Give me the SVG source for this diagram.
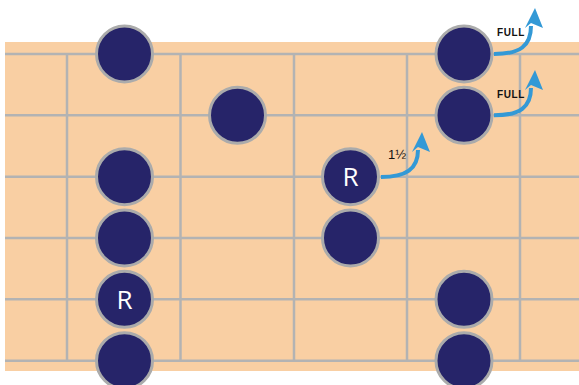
<svg xmlns="http://www.w3.org/2000/svg" width="579" height="385" viewBox="0 0 579 385">
<defs>
<style>
.bg{fill:#f9cfa3}
.ln{stroke:#b3b3b3;stroke-width:2.5;fill:none}
.dot{fill:#262469;stroke:#ababab;stroke-width:3}
.r{fill:#fff;font-family:"Open Sans","Liberation Sans",sans-serif;font-size:26px;text-anchor:middle}
.bend{stroke:#3399d6;stroke-width:4;fill:none}
.head{fill:#3399d6}
.lab{fill:#111;font-family:"Liberation Sans",sans-serif;font-weight:bold;font-size:10px;letter-spacing:0.6px}
.lab2{fill:#111;font-family:"Liberation Sans",sans-serif;font-size:13px}
</style>
</defs>
<g id="fretboard">
<rect class="bg" x="5" y="42" width="574" height="329"/>
<g class="ln">
<line x1="5" y1="54" x2="579" y2="54"/>
<line x1="5" y1="115.3" x2="579" y2="115.3"/>
<line x1="5" y1="176.7" x2="579" y2="176.7"/>
<line x1="5" y1="238" x2="579" y2="238"/>
<line x1="5" y1="299.3" x2="579" y2="299.3"/>
<line x1="5" y1="360.7" x2="579" y2="360.7"/>
<line x1="67" y1="54" x2="67" y2="360.7"/>
<line x1="180.5" y1="54" x2="180.5" y2="360.7"/>
<line x1="294" y1="54" x2="294" y2="360.7"/>
<line x1="407" y1="54" x2="407" y2="360.7"/>
<line x1="520" y1="54" x2="520" y2="360.7"/>
</g>
</g>
<g id="connectors">
<path class="bend" d="M494,54 C520,54 531,46 531,26"/>
<polygon class="head" points="535,8 543,28 531,23 525,28"/>
<path class="bend" d="M494,115.3 C520,115.3 531,107 531,88"/>
<polygon class="head" points="535,70 543,90 531,85 525,90"/>
<path class="bend" d="M381,177 C406,177 418,169 418,150"/>
<polygon class="head" points="422,132 430,152 418,147 412,152"/>
<text class="lab" x="497" y="36">FULL</text>
<text class="lab" x="497" y="98">FULL</text>
<text class="lab2" x="388" y="159">1½</text>
</g>
<g id="n1"><circle class="dot" cx="124.5" cy="54" r="28"/></g>
<g id="n2"><circle class="dot" cx="237.5" cy="115.3" r="28"/></g>
<g id="n3"><circle class="dot" cx="124.5" cy="176.7" r="28"/></g>
<g id="n4"><circle class="dot" cx="124.5" cy="238" r="28"/></g>
<g id="n5"><circle class="dot" cx="124.5" cy="299.3" r="28"/><text class="r" x="124.5" y="308.7">R</text></g>
<g id="n6"><circle class="dot" cx="124.5" cy="360.7" r="28"/></g>
<g id="n7"><circle class="dot" cx="350.5" cy="176.7" r="28"/><text class="r" x="350.5" y="186.1">R</text></g>
<g id="n8"><circle class="dot" cx="350.5" cy="238" r="28"/></g>
<g id="n9"><circle class="dot" cx="464" cy="54" r="28"/></g>
<g id="n10"><circle class="dot" cx="464" cy="115.3" r="28"/></g>
<g id="n11"><circle class="dot" cx="464" cy="299.3" r="28"/></g>
<g id="n12"><circle class="dot" cx="464" cy="360.7" r="28"/></g>
</svg>
